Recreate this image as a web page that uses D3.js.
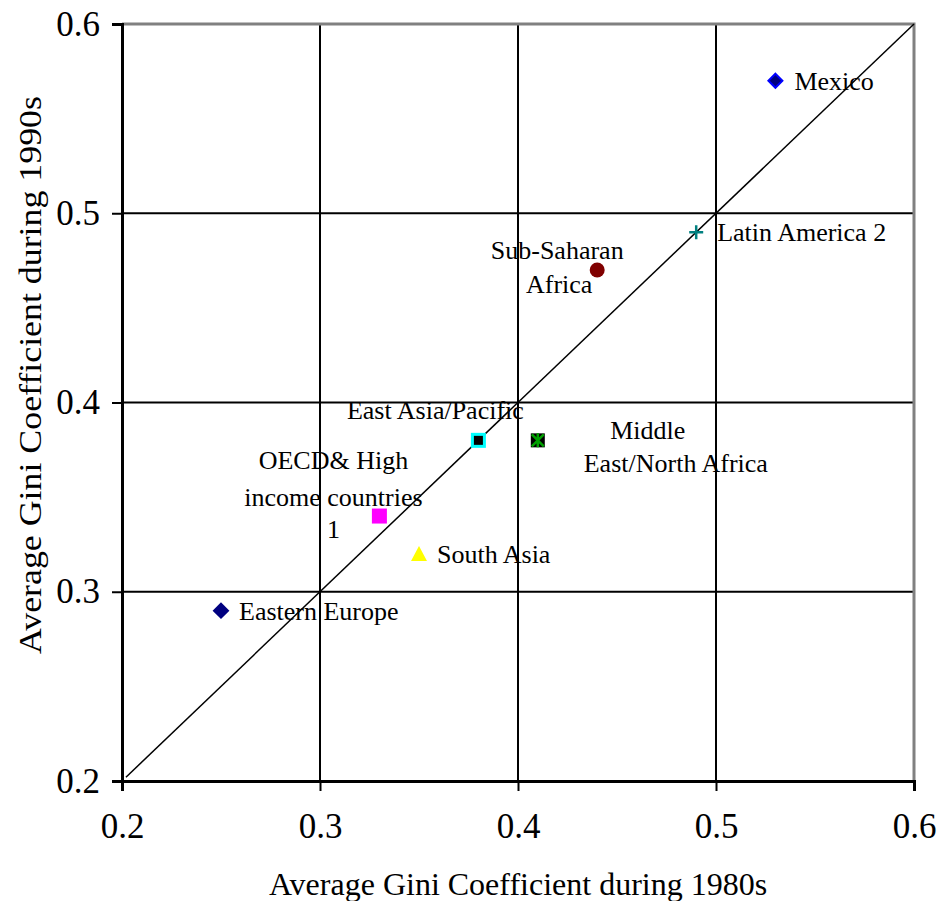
<!DOCTYPE html>
<html>
<head>
<meta charset="utf-8">
<script src="https://cdn.jsdelivr.net/npm/d3@7"></script>
<style>
  body { margin: 0; background: #fff; }
  text { font-family: "Liberation Serif", "Times New Roman", serif; fill: #000; }
</style>
</head>
<body>
<div id="chart"></div>
<script>
// regional averages of the Gini coefficient, 1980s vs 1990s
const regions = ["Mexico", "Latin America 2", "Sub-Saharan Africa", "East Asia/Pacific",
                 "Middle East/North Africa", "OECD& High income countries 1", "South Asia", "Eastern Europe"];
const gini1980s = [0.53, 0.49, 0.44, 0.38, 0.41, 0.33, 0.35, 0.25];
const gini1990s = [0.57, 0.49, 0.47, 0.38, 0.38, 0.34, 0.32, 0.29];
const tickValues = [0.2, 0.3, 0.4, 0.5, 0.6];

// how each point is drawn and where its label sits (pixel offsets from the marker)
const look = {
  "Mexico": { shape: "diamond", fill: "#000080", stroke: "#0000ff", lines: [["Mexico", 19, 0, "start"]] },
  "Latin America 2": { shape: "plus", fill: "none", stroke: "#008080", lines: [["Latin America 2", 21, 0, "start"]] },
  "Sub-Saharan Africa": { shape: "circle", fill: "#800000", stroke: "#800000",
    lines: [["Sub-Saharan", -40, -20, "middle"], ["Africa", -38, 14, "middle"]] },
  "East Asia/Pacific": { shape: "square", fill: "#000", stroke: "#00ffff", lines: [["East Asia/Pacific", -43, -30, "middle"]] },
  "Middle East/North Africa": { shape: "asterisk", fill: "#000", stroke: "#00a000",
    lines: [["Middle", 110, -10, "middle"], ["East/North Africa", 138, 23, "middle"]] },
  "OECD& High income countries 1": { shape: "square", fill: "#ff00ff", stroke: "#ff00ff",
    lines: [["OECD& High", -46, -56, "middle"], ["income countries", -46, -19, "middle"], ["1", -46, 13, "middle"]] },
  "South Asia": { shape: "triangle", fill: "#ffff00", stroke: "#ffff00", lines: [["South Asia", 18, 0, "start"]] },
  "Eastern Europe": { shape: "diamond", fill: "#000080", stroke: "#000080", lines: [["Eastern  Europe", 18, 0, "start"]] }
};

const width = 939, height = 901;
const margin = { left: 122, right: 25, top: 24, bottom: 120 };

const svg = d3.select("#chart")
  .append("svg")
    .attr("width", width)
    .attr("height", height);

const x = d3.scaleLinear().domain([0.2, 0.6]).range([margin.left, width - margin.right]);
const y = d3.scaleLinear().domain([0.2, 0.6]).range([height - margin.bottom, margin.top]);

// grid
svg.append("g")
  .selectAll("line")
  .data(tickValues.slice(1, -1))
  .enter()
  .append("line")
    .attr("x1", x(0.2)).attr("x2", x(0.6))
    .attr("y1", d => y(d)).attr("y2", d => y(d))
    .attr("stroke", "#000").attr("stroke-width", 2);
svg.append("g")
  .selectAll("line")
  .data(tickValues.slice(1, -1))
  .enter()
  .append("line")
    .attr("y1", y(0.2)).attr("y2", y(0.6))
    .attr("x1", d => x(d)).attr("x2", d => x(d))
    .attr("stroke", "#000").attr("stroke-width", 2);

// plot border (top / right)
svg.append("path")
  .attr("d", `M${x(0.2)},${y(0.6)}H${x(0.6)}V${y(0.2)}`)
  .attr("fill", "none")
  .attr("stroke", "#808080")
  .attr("stroke-width", 3);

// axes
const xAxis = svg.append("g")
  .attr("transform", `translate(0,${y(0.2)})`)
  .call(d3.axisBottom(x).tickValues(tickValues).tickSize(10).tickPadding(22).tickFormat(d3.format(".1f")));
const yAxis = svg.append("g")
  .attr("transform", `translate(${x(0.2)},0)`)
  .call(d3.axisLeft(y).tickValues(tickValues).tickSize(10).tickPadding(12).tickFormat(d3.format(".1f")));
[xAxis, yAxis].forEach(g => {
  g.attr("font-family", null);
  g.select(".domain").attr("stroke", "#000").attr("stroke-width", 3);
  g.selectAll(".tick line").attr("stroke", "#000").attr("stroke-width", 2);
  g.selectAll(".tick text")
    .style("font-family", '"Liberation Serif", serif')
    .style("font-size", "35px")
    .attr("fill", "#000");
});

// 45-degree line
svg.append("line")
  .attr("x1", x(0.202)).attr("y1", y(0.202))
  .attr("x2", x(0.6)).attr("y2", y(0.6))
  .attr("stroke", "#000")
  .attr("stroke-width", 1.5);

// axis titles
svg.append("text")
  .attr("x", (x(0.2) + x(0.6)) / 2)
  .attr("y", 895)
  .attr("text-anchor", "middle")
  .style("font-size", "32px")
  .text("Average Gini Coefficient during 1980s");
svg.append("text")
  .attr("transform", `translate(41,375) rotate(-90) scale(1.12,1)`)
  .attr("text-anchor", "middle")
  .style("font-size", "32px")
  .text("Average Gini Coefficient during 1990s");

// markers
const points = regions.map((r, i) => ({ name: r, gx: gini1980s[i], gy: gini1990s[i], ...look[r] }));

const pt = svg.append("g")
  .selectAll("g")
  .data(points)
  .enter()
  .append("g")
    .attr("transform", d => `translate(${x(d.gx)},${y(d.gy)})`);

pt.each(function (d) {
  const g = d3.select(this);
  if (d.shape === "diamond") {
    g.append("path").attr("d", "M0,-7L7,0L0,7L-7,0Z")
      .attr("fill", d.fill).attr("stroke", d.stroke).attr("stroke-width", 2);
  } else if (d.shape === "square") {
    g.append("rect").attr("x", -6).attr("y", -6).attr("width", 12).attr("height", 12)
      .attr("fill", d.fill).attr("stroke", d.stroke).attr("stroke-width", 3);
  } else if (d.shape === "circle") {
    g.append("circle").attr("r", 7.5).attr("fill", d.fill);
  } else if (d.shape === "triangle") {
    g.append("path").attr("d", "M0,-8L8,7L-8,7Z").attr("fill", d.fill);
  } else if (d.shape === "plus") {
    g.append("path").attr("d", "M-7,0H7M0,-7V7")
      .attr("stroke", d.stroke).attr("stroke-width", 2.5);
  } else if (d.shape === "asterisk") {
    g.append("rect").attr("x", -7).attr("y", -7).attr("width", 14).attr("height", 14).attr("fill", d.fill);
    g.append("path").attr("d", "M0,-7V7M-6,-6L6,6M6,-6L-6,6")
      .attr("stroke", d.stroke).attr("stroke-width", 2.5);
  }
});

// labels
pt.selectAll("text")
  .data(d => d.lines)
  .enter()
  .append("text")
    .attr("x", l => l[1])
    .attr("y", l => l[2])
    .attr("dy", "0.35em")
    .attr("text-anchor", l => l[3])
    .style("font-size", "26px")
    .text(l => l[0]);
</script>
</body>
</html>
